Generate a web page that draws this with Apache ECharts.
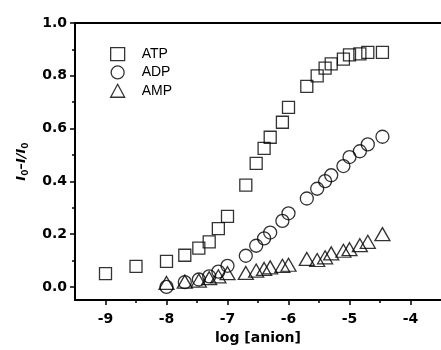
<!DOCTYPE html>
<html>
<head>
<meta charset="utf-8">
<script src="https://cdn.jsdelivr.net/npm/echarts@6/dist/echarts.min.js"></script>
<style>
  html, body { margin: 0; padding: 0; background: #fff; }
  #chart { width: 441px; height: 350px; }
</style>
</head>
<body>
<div id="chart"></div>
<script>
// log [anion] values, ATP has two extra points at low concentration
var atpX = [-9.0, -8.5, -8.0, -7.7, -7.47, -7.3, -7.15, -7.0, -6.7, -6.53, -6.4, -6.3, -6.1, -6.0, -5.7, -5.53, -5.4, -5.3, -5.1, -5.0, -4.83, -4.7, -4.46];
var atpY = [0.05, 0.078, 0.097, 0.12, 0.147, 0.171, 0.221, 0.267, 0.386, 0.468, 0.525, 0.567, 0.624, 0.68, 0.76, 0.80, 0.829, 0.845, 0.863, 0.879, 0.883, 0.889, 0.889];
var concX = [-8.0, -7.7, -7.47, -7.3, -7.15, -7.0, -6.7, -6.53, -6.4, -6.3, -6.1, -6.0, -5.7, -5.53, -5.4, -5.3, -5.1, -5.0, -4.83, -4.7, -4.46];
var adpY = [0.0, 0.018, 0.028, 0.04, 0.058, 0.08, 0.118, 0.156, 0.184, 0.206, 0.25, 0.279, 0.335, 0.372, 0.401, 0.423, 0.458, 0.492, 0.514, 0.54, 0.569];
var ampY = [0.015, 0.02, 0.024, 0.033, 0.04, 0.052, 0.053, 0.062, 0.068, 0.074, 0.08, 0.084, 0.106, 0.102, 0.112, 0.127, 0.137, 0.143, 0.158, 0.171, 0.20];

var xTicks = [-9, -8, -7, -6, -5, -4];
var xMinorTicks = [-8.5, -7.5, -6.5, -5.5, -4.5];
var yTicks = [0.0, 0.2, 0.4, 0.6, 0.8, 1.0];
var yMinorTicks = [0.1, 0.3, 0.5, 0.7, 0.9];

function pairs(xs, ys) {
    return xs.map(function (x, i) { return [x, ys[i]]; });
}

var font = '"Liberation Sans", Arial, sans-serif';
var boldFont = '"DejaVu Sans", sans-serif';
var black = '#000';
var markStyle = { color: 'rgba(0,0,0,0)', borderColor: black, borderWidth: 1.3 };

var option = {
    animation: false,
    textStyle: { fontFamily: font, color: black },
    grid: { left: 75, right: -3, top: 23, bottom: 48.5 },
    legend: {
        orient: 'vertical',
        left: 105,
        top: 42,
        itemWidth: 14,
        itemHeight: 13,
        itemGap: 4,
        itemStyle: { color: 'rgba(0,0,0,0)', borderColor: black, borderWidth: 1.3 },
        textStyle: { fontFamily: font, fontSize: 14, color: black, padding: [0, 0, 0, 12] },
        data: [
            { name: 'ATP', icon: 'rect' },
            { name: 'ADP', icon: 'circle' },
            { name: 'AMP', icon: 'triangle' }
        ]
    },
    xAxis: [
        {
            type: 'value', min: -9.5, max: -3.5,
            name: 'log [anion]', nameLocation: 'middle', nameGap: 27,
            nameTextStyle: { fontFamily: boldFont, fontSize: 14, fontWeight: 'bold', color: black },
            axisLine: { onZero: false, lineStyle: { color: black, width: 2 } },
            axisTick: { customValues: xTicks, length: 5, lineStyle: { color: black, width: 1.5 } },
            axisLabel: {
                customValues: xTicks, margin: 12,
                fontFamily: boldFont, fontSize: 14, fontWeight: 'bold', color: black
            },
            splitLine: { show: false }
        },
        {
            type: 'value', min: -9.5, max: -3.5, position: 'bottom',
            axisLine: { show: false, onZero: false },
            axisTick: { customValues: xMinorTicks, length: 3, lineStyle: { color: black, width: 1.5 } },
            axisLabel: { show: false },
            splitLine: { show: false }
        },
        {
            type: 'value', min: -9.5, max: -3.5, position: 'top',
            axisLine: { onZero: false, lineStyle: { color: black, width: 2 } },
            axisTick: { show: false },
            axisLabel: { show: false },
            splitLine: { show: false }
        }
    ],
    yAxis: [
        {
            type: 'value', min: -0.05, max: 1.0,
            name: '{i|I}{s|0}{i|\u2013I/I}{s|0}', nameLocation: 'middle', nameGap: 45, nameRotate: 90,
            nameTextStyle: {
                rich: {
                    i: { fontFamily: boldFont, fontSize: 13, fontWeight: 'bold', fontStyle: 'italic', color: black },
                    s: { fontFamily: boldFont, fontSize: 9, fontWeight: 'bold', color: black, padding: [8, 0, 0, 0] }
                }
            },
            axisLine: { onZero: false, lineStyle: { color: black, width: 2 } },
            axisTick: { customValues: yTicks, length: 5, lineStyle: { color: black, width: 1.5 } },
            axisLabel: {
                customValues: yTicks, margin: 8,
                fontFamily: boldFont, fontSize: 14, fontWeight: 'bold', color: black,
                formatter: function (v) { return v.toFixed(1); }
            },
            splitLine: { show: false }
        },
        {
            type: 'value', min: -0.05, max: 1.0, position: 'left',
            axisLine: { show: false, onZero: false },
            axisTick: { customValues: yMinorTicks, length: 3, lineStyle: { color: black, width: 1.5 } },
            axisLabel: { show: false },
            splitLine: { show: false }
        }
    ],
    series: [
        {
            name: 'ATP', type: 'scatter', symbol: 'rect', symbolSize: 12,
            itemStyle: markStyle, data: pairs(atpX, atpY)
        },
        {
            name: 'ADP', type: 'scatter', symbol: 'circle', symbolSize: 13,
            itemStyle: markStyle, data: pairs(concX, adpY)
        },
        {
            name: 'AMP', type: 'scatter', symbol: 'triangle', symbolSize: [15, 13],
            itemStyle: markStyle, data: pairs(concX, ampY)
        }
    ]
};

var chart = echarts.init(document.getElementById('chart'));
chart.setOption(option);
</script>
</body>
</html>
